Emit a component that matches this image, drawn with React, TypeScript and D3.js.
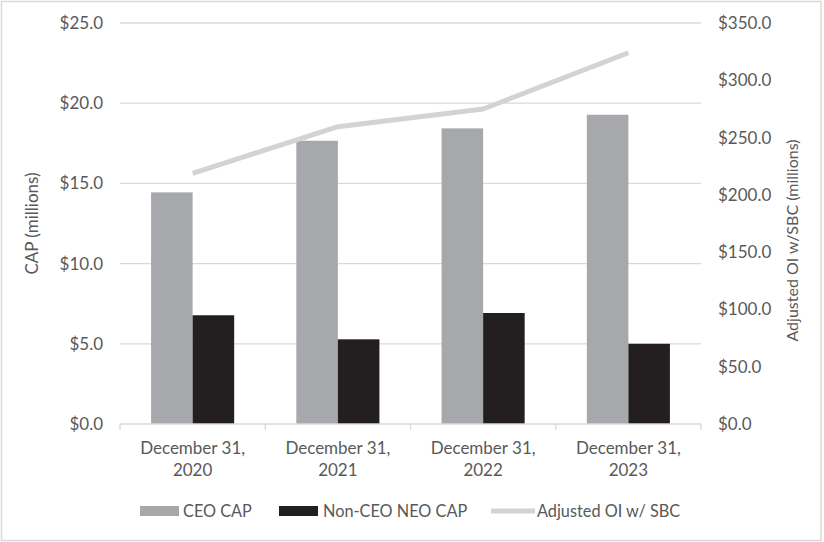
import React from "react";
import * as d3 from "d3";

const categories = ["December 31, 2020", "December 31, 2021", "December 31, 2022", "December 31, 2023"];
const ceoCap = [14.44, 17.66, 18.43, 19.28];
const nonCeoCap = [6.78, 5.28, 6.92, 5.0];
const adjustedOI = [218.8, 259.5, 274.9, 324.0];
const leftTicks = [0, 5, 10, 15, 20, 25];
const rightTicks = [0, 50, 100, 150, 200, 250, 300, 350];
const seriesNames = ["CEO CAP", "Non-CEO NEO CAP", "Adjusted OI w/ SBC"];

const W = 824;
const H = 542;
const left = 120;
const right = 701;
const top = 23;
const bottom = 424;
const font = "Lato, 'Open Sans', sans-serif";
const fs = 17;
const textColor = "#595959";
const grid = "#d9d9d9";
const ceoColor = "#a7a8ab";
const nonCeoColor = "#231f20";
const lineColor = "#d3d3d3";

export default function App() {
  const x = d3.scaleBand<string>().domain(categories).range([left, right]).paddingInner(0).paddingOuter(0);
  const yL = d3.scaleLinear().domain([0, 25]).range([bottom, top]);
  const yR = d3.scaleLinear().domain([0, 350]).range([bottom, top]);
  const bw = x.bandwidth();
  const barW = bw * 0.286;
  const line = d3
    .line<number>()
    .x((_, i) => (x(categories[i]) as number) + bw / 2)
    .y((d) => yR(d));

  return (
    <svg width={W} height={H} style={{ position: "absolute", left: 0, top: 0 }} fontFamily={font}>
      <rect x={0} y={0} width={W} height={H} fill="#fff" />
      <rect x={1.5} y={1.5} width={819.5} height={539} fill="none" stroke="#d9d9d9" strokeWidth={1.5} />
      {leftTicks.slice(1).map((t) => (
        <line key={t} x1={left} x2={right} y1={yL(t)} y2={yL(t)} stroke={grid} strokeWidth={1.3} />
      ))}
      {leftTicks.map((t) => (
        <text key={t} x={103} y={yL(t)} dy="0.35em" textAnchor="end" fontSize={fs} fill={textColor}>
          {"$" + t.toFixed(1)}
        </text>
      ))}
      {rightTicks.map((t) => (
        <text key={t} x={718} y={yR(t)} dy="0.35em" textAnchor="start" fontSize={fs} fill={textColor}>
          {"$" + t.toFixed(1)}
        </text>
      ))}
      {categories.map((c, i) => {
        const x0 = (x(c) as number) + bw / 2;
        return (
          <g key={c}>
            <rect x={x0 - barW} y={yL(ceoCap[i])} width={barW} height={yL(0) - yL(ceoCap[i])} fill={ceoColor} />
            <rect x={x0} y={yL(nonCeoCap[i])} width={barW} height={yL(0) - yL(nonCeoCap[i])} fill={nonCeoColor} />
          </g>
        );
      })}
      <line x1={left} x2={right} y1={bottom} y2={bottom} stroke={grid} strokeWidth={1.3} />
      {[...categories.map((c) => x(c) as number), right].map((tx, i) => (
        <line key={i} x1={tx} x2={tx} y1={bottom} y2={bottom + 6} stroke={grid} strokeWidth={1.3} />
      ))}
      {categories.map((c) => {
        const x0 = (x(c) as number) + bw / 2;
        const parts = c.split(", ");
        return (
          <text key={c} x={x0} textAnchor="middle" fontSize={fs} fill={textColor}>
            <tspan x={x0} y={454}>{parts[0] + ","}</tspan>
            <tspan x={x0} y={476}>{parts[1]}</tspan>
          </text>
        );
      })}
      <path d={line(adjustedOI) || ""} fill="none" stroke={lineColor} strokeWidth={5} strokeLinejoin="round" />
      <text transform={`translate(38,${(top + bottom) / 2}) rotate(-90)`} textAnchor="middle" fontSize={fs} fill={textColor}>
        CAP (millions)
      </text>
      <text transform={`translate(798,${(top + bottom) / 2 + 17}) rotate(-90)`} textAnchor="middle" fontSize={16} fill={textColor}>
        Adjusted OI w/SBC (millions)
      </text>
      <g fontSize={16.3} fill={textColor}>
        <rect x={140} y={506} width={39} height={10} fill={ceoColor} />
        <text x={183} y={511} dy="0.35em">{seriesNames[0]}</text>
        <rect x={279} y={506} width={39} height={10} fill={nonCeoColor} />
        <text x={323} y={511} dy="0.35em">{seriesNames[1]}</text>
        <line x1={491} x2={535} y1={511} y2={511} stroke={lineColor} strokeWidth={5} />
        <text x={537} y={511} dy="0.35em">{seriesNames[2]}</text>
      </g>
    </svg>
  );
}
